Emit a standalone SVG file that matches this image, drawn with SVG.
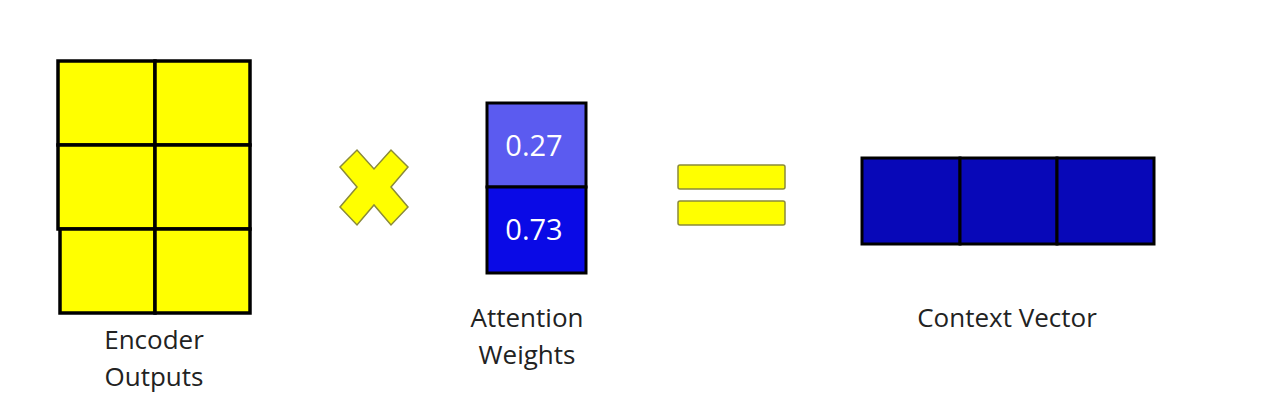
<svg xmlns="http://www.w3.org/2000/svg" width="1267" height="416" viewBox="0 0 1267 416">
<style>
.y{fill:#FFFF00;stroke:#000;stroke-width:3.5}
.op{fill:#FFFF00;stroke:#8a8a3a;stroke-width:1.5}
.lbl{font-family:"Open Sans","Liberation Sans",sans-serif;font-size:26px;fill:#222;text-anchor:middle}
.num{font-family:"Open Sans","Liberation Sans",sans-serif;font-size:29px;fill:#fff;text-anchor:middle}
.cv{fill:#0808B8;stroke:#000;stroke-width:3}
</style>
<rect width="1267" height="416" fill="#fff"/>
<g id="encoder">
<rect class="y" x="58" y="61" width="97" height="84"/>
<rect class="y" x="155" y="61" width="95" height="84"/>
<rect class="y" x="58" y="145" width="97" height="84"/>
<rect class="y" x="155" y="145" width="95" height="84"/>
<rect class="y" x="60" y="229" width="95" height="84"/>
<rect class="y" x="155" y="229" width="95" height="84"/>
<text class="lbl" x="154" y="349">Encoder</text>
<text class="lbl" x="154" y="386">Outputs</text>
</g>
<g id="times">
<polygon class="op" points="340,167 357,150 374,169 391,150 408,167 391,187 408,207 391,225 374,205 357,225 340,207 357,187"/>
</g>
<g id="attention">
<rect x="487" y="103" width="99" height="84" fill="#5B5BF0" stroke="#000" stroke-width="3"/>
<rect x="487" y="187" width="99" height="86" fill="#0A0AE6" stroke="#000" stroke-width="3"/>
<text class="num" x="534" y="156">0.27</text>
<text class="num" x="534" y="240">0.73</text>
<text class="lbl" x="527" y="327">Attention</text>
<text class="lbl" x="527" y="364">Weights</text>
</g>
<g id="equals">
<rect class="op" x="678" y="165" width="107" height="24" rx="2"/>
<rect class="op" x="678" y="201" width="107" height="24" rx="2"/>
</g>
<g id="context">
<rect class="cv" x="862" y="158" width="98" height="86"/>
<rect class="cv" x="960" y="158" width="97" height="86"/>
<rect class="cv" x="1057" y="158" width="97" height="86"/>
<text class="lbl" x="1007" y="327">Context Vector</text>
</g>
<g id="connectors"/>
</svg>
